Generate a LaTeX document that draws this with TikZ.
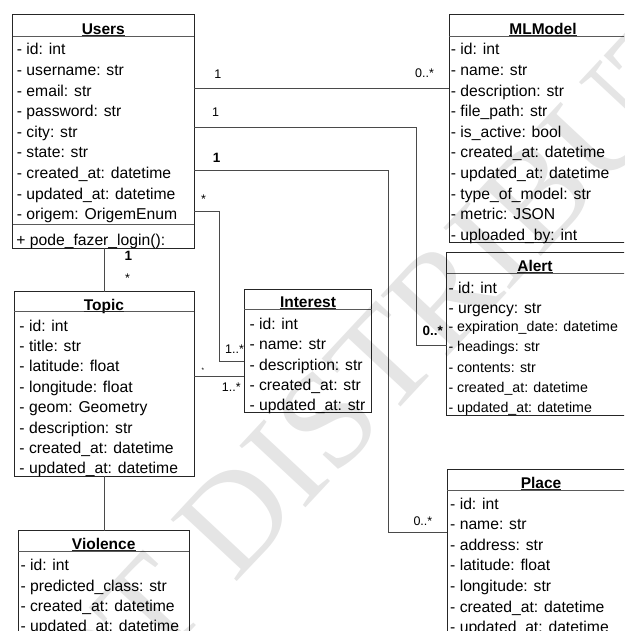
\documentclass[tikz,border=0pt]{standalone}
\usepackage{fontspec}
\setmainfont{Liberation Sans}
\newfontfamily\wmfont{Liberation Serif}
\definecolor{boxline}{HTML}{262626}
\definecolor{sepline}{HTML}{5A5A5A}
\definecolor{wire}{HTML}{4A4A4A}

\begin{document}
\begin{tikzpicture}[x=1pt,y=-1pt,
  classbox/.style={draw=boxline, line width=1pt, fill=white, inner sep=0pt, outer sep=0pt, anchor=north west},
  sepstroke/.style={draw=sepline, line width=0.9pt},
  titletext/.style={font=\fontsize{15.5}{18}\selectfont\bfseries, inner sep=0pt, anchor=base},
  titlerule/.style={draw=boxline, line width=1.1pt},
  attr/.style={font=\fontsize{15.7}{18}\selectfont, inner sep=0pt, anchor=base west},
  attrsmall/.style={font=\fontsize{14.2}{17}\selectfont, inner sep=0pt, anchor=base west},
  mult/.style={font=\fontsize{12.5}{14}\selectfont, inner sep=0pt, anchor=base west},
  multbold/.style={font=\fontsize{13.5}{15}\selectfont\bfseries, inner sep=0pt, anchor=base west},
  multtiny/.style={font=\fontsize{6.5}{8}\selectfont, inner sep=0pt, anchor=base west},
  link/.style={draw=wire, line width=0.9pt},
  wm/.style={font=\wmfont\fontsize{138}{138}\selectfont, text=black, text opacity=0.1, inner sep=0pt}
]
\useasboundingbox (0,0) rectangle (624,631);
\clip (0,0) rectangle (624,631);

% ---------- Users ----------
\node[classbox, minimum width=181.3pt, minimum height=233.3pt] (users) at (12.7,15) {};
\draw[sepstroke] (12.7,36) -- (194,36);
\draw[sepstroke] (12.7,224.3) -- (194,224.3);
\node[titletext] (usersT) at (103.3,34.3) {Users};
\draw[titlerule] ([yshift=-1.2pt]usersT.base west) -- ([yshift=-1.2pt]usersT.base east);
\foreach \t [count=\i from 0] in {- id: int, - username: str, - email: str, - password: str, - city: str, - state: str, - created\_at: datetime, - updated\_at: datetime, - origem: OrigemEnum}
  \node[attr] (users-a\i) at (16.7,{55+20.6*\i}) {\t};
\node[attr] (users-m0) at (16.2,245) {+ pode\_fazer\_login():};

% ---------- MLModel ----------
\node[classbox, minimum width=190pt, minimum height=227pt] (mlmodel) at (449.3,15) {};
\draw[sepstroke] (449.3,36) -- (640,36);
\node[titletext] (mlmodelT) at (543,34.3) {MLModel};
\draw[titlerule] ([yshift=-1.2pt]mlmodelT.base west) -- ([yshift=-1.2pt]mlmodelT.base east);
\foreach \t [count=\i from 0] in {- id: int, - name: str, - description: str, - file\_path: str, - is\_active: bool, - created\_at: datetime, - updated\_at: datetime, - type\_of\_model: str, - metric: JSON, - uploaded\_by: int}
  \node[attr] (mlmodel-a\i) at (450.7,{55+20.6*\i}) {\t};

% ---------- Alert ----------
\node[classbox, minimum width=190pt, minimum height=163.7pt] (alert) at (446.7,252) {};
\draw[sepstroke] (446.7,273.3) -- (640,273.3);
\node[titletext] (alertT) at (535,271.5) {Alert};
\draw[titlerule] ([yshift=-1.2pt]alertT.base west) -- ([yshift=-1.2pt]alertT.base east);
\node[attr] (alert-a0) at (448.3,293) {- id: int};
\node[attr] (alert-a1) at (448.3,313.3) {- urgency: str};
\node[attrsmall] (alert-a2) at (448.3,331) {- expiration\_date: datetime};
\node[attrsmall] (alert-a3) at (448.3,351.5) {- headings: str};
\node[attrsmall] (alert-a4) at (448.3,372) {- contents: str};
\node[attrsmall] (alert-a5) at (448.3,392.3) {- created\_at: datetime};
\node[attrsmall] (alert-a6) at (448.3,412.7) {- updated\_at: datetime};

% ---------- Topic ----------
\node[classbox, minimum width=180pt, minimum height=184.3pt] (topic) at (14,291.7) {};
\draw[sepstroke] (14,311.7) -- (194,311.7);
\node[titletext] (topicT) at (104,310) {Topic};
\draw[titlerule] ([yshift=-1.2pt]topicT.base west) -- ([yshift=-1.2pt]topicT.base east);
\foreach \t [count=\i from 0] in {- id: int, - title: str, - latitude: float, - longitude: float, - geom: Geometry, - description: str, - created\_at: datetime, - updated\_at: datetime}
  \node[attr] (topic-a\i) at (19.3,{331+20.4*\i}) {\t};

% ---------- Interest ----------
\node[classbox, minimum width=127.4pt, minimum height=123.7pt] (interest) at (244.3,289) {};
\draw[sepstroke] (244.3,309.3) -- (371.7,309.3);
\node[titletext] (interestT) at (308,307.6) {Interest};
\draw[titlerule] ([yshift=-1.2pt]interestT.base west) -- ([yshift=-1.2pt]interestT.base east);
\foreach \t [count=\i from 0] in {- id: int, - name: str, - description: str, - created\_at: str, - updated\_at: str}
  \node[attr] (interest-a\i) at (249.3,{329.3+20.4*\i}) {\t};

% ---------- Violence ----------
\node[classbox, minimum width=170.7pt, minimum height=170pt] (violence) at (18.3,530.7) {};
\draw[sepstroke] (18.3,551) -- (189,551);
\node[titletext] (violenceT) at (103.7,549.3) {Violence};
\draw[titlerule] ([yshift=-1.2pt]violenceT.base west) -- ([yshift=-1.2pt]violenceT.base east);
\foreach \t [count=\i from 0] in {- id: int, - predicted\_class: str, - created\_at: datetime, - updated\_at: datetime}
  \node[attr] (violence-a\i) at (20.3,{570.7+20.4*\i}) {\t};

% ---------- Place ----------
\node[classbox, minimum width=190pt, minimum height=230pt] (place) at (447.3,469.3) {};
\draw[sepstroke] (447.3,490) -- (640,490);
\node[titletext] (placeT) at (541,488.3) {Place};
\draw[titlerule] ([yshift=-1.2pt]placeT.base west) -- ([yshift=-1.2pt]placeT.base east);
\foreach \t [count=\i from 0] in {- id: int, - name: str, - address: str, - latitude: float, - longitude: str, - created\_at: datetime, - updated\_at: datetime}
  \node[attr] (place-a\i) at (450,{509+20.6*\i}) {\t};

% ---------- Associations ----------
\draw[link] (users.east |- 0,88) -- (mlmodel.west |- 0,88);
\draw[link] (users.east |- 0,127) -- (416,127) -- (416,345) -- (alert.west |- 0,345);
\draw[link] (users.east |- 0,170.5) -- (388.7,170.5) -- (388.7,532) -- (place.west |- 0,532);
\draw[link] (users.east |- 0,211.7) -- (219.7,211.7) -- (219.7,361) -- (interest.west |- 0,361);
\draw[link] (topic.east |- 0,376) -- (interest.west |- 0,376);
\draw[link] (users.south -| 104,0) -- (topic.north -| 104,0);
\draw[link] (topic.south -| 104,0) -- (violence.north -| 104,0);

% multiplicities
\node[mult] (m1a) at (214.2,78.3) {1};
\node[mult] (m1b) at (415,78) {0..*};
\node[mult] (m2a) at (212,116.7) {1};
\node[multbold] (m2b) at (422.5,335) {0..*};
\node[multbold] (m3a) at (212.7,163) {1};
\node[mult] (m3b) at (413.3,525) {0..*};
\node[mult] (m4a) at (201,203) {*};
\node[mult] (m4b) at (225,353.3) {1..*};
\node[multtiny] (m5a) at (201.5,372) {*};
\node[mult] (m5b) at (221.7,391.7) {1..*};
\node[multbold] (m6a) at (124.5,260.7) {1};
\node[mult] (m6b) at (124.8,282.6) {*};

% ---------- watermark ----------
\node[wm, rotate=47] (stamp) at (368,376) {NOT DISTRIBUTE};
\end{tikzpicture}
\end{document}
